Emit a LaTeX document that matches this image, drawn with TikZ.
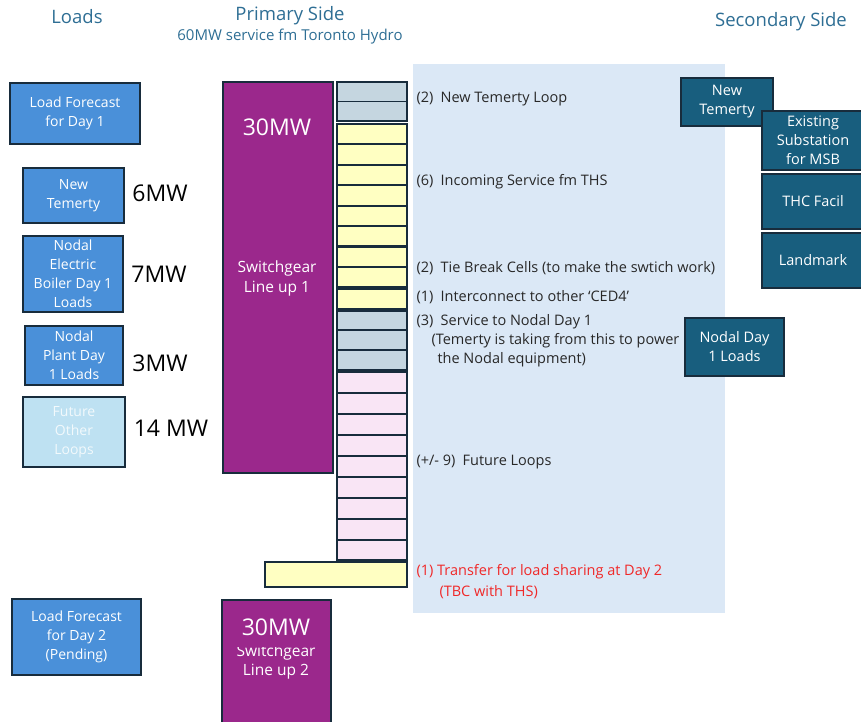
\documentclass[tikz,border=0pt]{standalone}
\usepackage{fontspec}
\setmainfont{Open Sans}
\usepackage{xcolor}
\usepackage{tikz}

\definecolor{headblue}{RGB}{46,110,148}
\definecolor{loadblue}{RGB}{74,144,217}
\definecolor{paleblue}{RGB}{190,225,242}
\definecolor{edgedark}{RGB}{24,44,60}
\definecolor{sgpurple}{RGB}{155,40,140}
\definecolor{cellgrey}{RGB}{197,214,224}
\definecolor{cellyellow}{RGB}{255,255,194}
\definecolor{cellpink}{RGB}{249,229,245}
\definecolor{backblue}{RGB}{219,232,246}
\definecolor{secteal}{RGB}{24,94,126}
\definecolor{notered}{RGB}{240,40,40}
\definecolor{notegrey}{RGB}{40,40,40}

\begin{document}
\begin{tikzpicture}[x=1pt, y=-1pt,
        header/.style={text=headblue, font=\fontsize{18.5}{20}\selectfont},
        loadbox/.style={draw=edgedark, line width=1.5pt, fill=loadblue, text=white,
            align=center, inner sep=0pt, font=\fontsize{14}{19}\selectfont},
        secbox/.style={draw=edgedark, line width=1.5pt, fill=secteal, text=white,
            align=center, inner sep=0pt, font=\fontsize{14.5}{19}\selectfont},
        sgbox/.style={draw=edgedark, line width=1.5pt, fill=sgpurple, text=white},
        mwtext/.style={text=black, font=\fontsize{23}{26}\selectfont},
        note/.style={anchor=west, text=notegrey, font=\fontsize{14.5}{16}\selectfont},
        cell/.style={draw=edgedark, line width=1.2pt}]
        \useasboundingbox (0,0) rectangle (861,721);

        % headings
        \node[header] (hloads) at (77, 17) {Loads};
        \node[header] (hprim) at (290, 16) {Primary Side};
        \node[header, font=\fontsize{15}{16}\selectfont] (hserv) at (290, 37) {60MW service fm Toronto Hydro};
        \node[header] (hsec) at (781, 22) {Secondary Side};

        % secondary side background
        \fill[backblue] (413, 64) rectangle (725, 613);

        % loads
        \node[loadbox, minimum width=130, minimum height=61] (fcday1) at (75, 113.5) {Load Forecast\\for Day 1};
        \node[loadbox, minimum width=101, minimum height=55] (ldtemerty) at (73.5, 195.5) {New\\Temerty};
        \node[loadbox, minimum width=100, minimum height=76] (ldboiler) at (73, 274) {Nodal\\Electric\\Boiler Day 1\\Loads};
        \node[loadbox, minimum width=98, minimum height=59] (ldplant) at (74, 355.5) {Nodal\\Plant Day\\1 Loads};
        \node[loadbox, fill=paleblue, text=white!80!paleblue, minimum width=102, minimum height=70] (ldfuture) at (74, 432) {Future\\Other\\Loops};
        \node[loadbox, minimum width=129, minimum height=76] (fcday2) at (76.5, 637) {Load Forecast\\for Day 2\\(Pending)};

        \node[mwtext] (mwtemerty) at (160, 193) {6MW};
        \node[mwtext] (mwboiler) at (159, 274) {7MW};
        \node[mwtext] (mwplant) at (160, 363) {3MW};
        \node[mwtext] (mwfuture) at (171, 428) {14 MW};

        % switchgear line ups
        \node[sgbox, minimum width=110, minimum height=391] (sgone) at (278, 277.5) {};
        \node[text=white, font=\fontsize{23}{28}\selectfont] (sgonemw) at (277, 127) {30MW};
        \node[text=white, align=center, font=\fontsize{15.5}{20}\selectfont] (sgonename) at (277, 278) {Switchgear\\Line up 1};

        \node[sgbox, minimum width=109, minimum height=124] (sgtwo) at (276.5, 662) {};
        \node[text=white, font=\fontsize{15.5}{20}\selectfont] (sgtwoname) at (276, 652) {Switchgear};
        \node[text=white, font=\fontsize{15.5}{20}\selectfont] (sgtwoline) at (276, 672) {Line up 2};
        \node[fill=sgpurple, text=white, inner sep=0pt, minimum width=100, minimum height=40,
            font=\fontsize{23}{28}\selectfont] (sgtwomw) at (276, 627) {30MW};

        % cells
        \filldraw[cell, fill=cellgrey] (337, 82) rectangle (407, 101.5)
            (337, 101.5) rectangle (407, 121);
        \filldraw[cell, fill=cellyellow] (337, 124) rectangle (407, 144)
            (337, 144) rectangle (407, 165)
            (337, 165) rectangle (407, 185)
            (337, 185) rectangle (407, 206)
            (337, 206) rectangle (407, 226)
            (337, 226) rectangle (407, 246);
        \filldraw[cell, fill=cellyellow] (337, 247) rectangle (407, 267)
            (337, 267) rectangle (407, 287);
        \filldraw[cell, fill=cellyellow] (337, 289) rectangle (407, 309);
        \filldraw[cell, fill=cellgrey] (337, 311) rectangle (407, 330)
            (337, 330) rectangle (407, 350)
            (337, 350) rectangle (407, 370);
        \filldraw[cell, fill=cellpink] (337, 372) rectangle (407, 393)
            (337, 393) rectangle (407, 414)
            (337, 414) rectangle (407, 435)
            (337, 435) rectangle (407, 456)
            (337, 456) rectangle (407, 477)
            (337, 477) rectangle (407, 498)
            (337, 498) rectangle (407, 519)
            (337, 519) rectangle (407, 540)
            (337, 540) rectangle (407, 560);
        \filldraw[cell, fill=cellyellow] (265, 562) rectangle (407, 587);

        % cell notes
        \node[note] (ntloop) at (413, 99) {(2)\enspace New Temerty Loop};
        \node[note] (ntincoming) at (413, 182) {(6)\enspace Incoming Service fm THS};
        \node[note] (nttie) at (413, 268) {(2)\enspace Tie Break Cells (to make the swtich work)};
        \node[note] (ntinter) at (413, 297) {(1)\enspace Interconnect to other ‘CED4’};
        \node[note] (ntnodal) at (413, 322) {(3)\enspace Service to Nodal Day 1};
        \node[note] (ntnodalb) at (428, 341) {(Temerty is taking from this to power};
        \node[note] (ntnodalc) at (434, 360) {the Nodal equipment)};
        \node[note] (ntfuture) at (413, 462) {(+/- 9)\enspace Future Loops};
        \node[note, text=notered] (nttransfer) at (413, 572) {(1) Transfer for load sharing at Day 2};
        \node[note, text=notered] (nttbc) at (436, 592) {(TBC with THS)};

        % secondary side
        \node[secbox, minimum width=92, minimum height=48] (sectemerty) at (727, 102) {New\\Temerty};
        \node[secbox, minimum width=102, minimum height=59] (secsub) at (813, 140.5) {Existing\\Substation\\for MSB};
        \node[secbox, minimum width=102, minimum height=55] (secthc) at (813, 201.5) {THC Facil};
        \node[secbox, minimum width=102, minimum height=55] (seclandmark) at (813, 260.5) {Landmark};
        \node[secbox, minimum width=99, minimum height=58] (secnodal) at (734.5, 347) {Nodal Day\\1 Loads};
\end{tikzpicture}
\end{document}
